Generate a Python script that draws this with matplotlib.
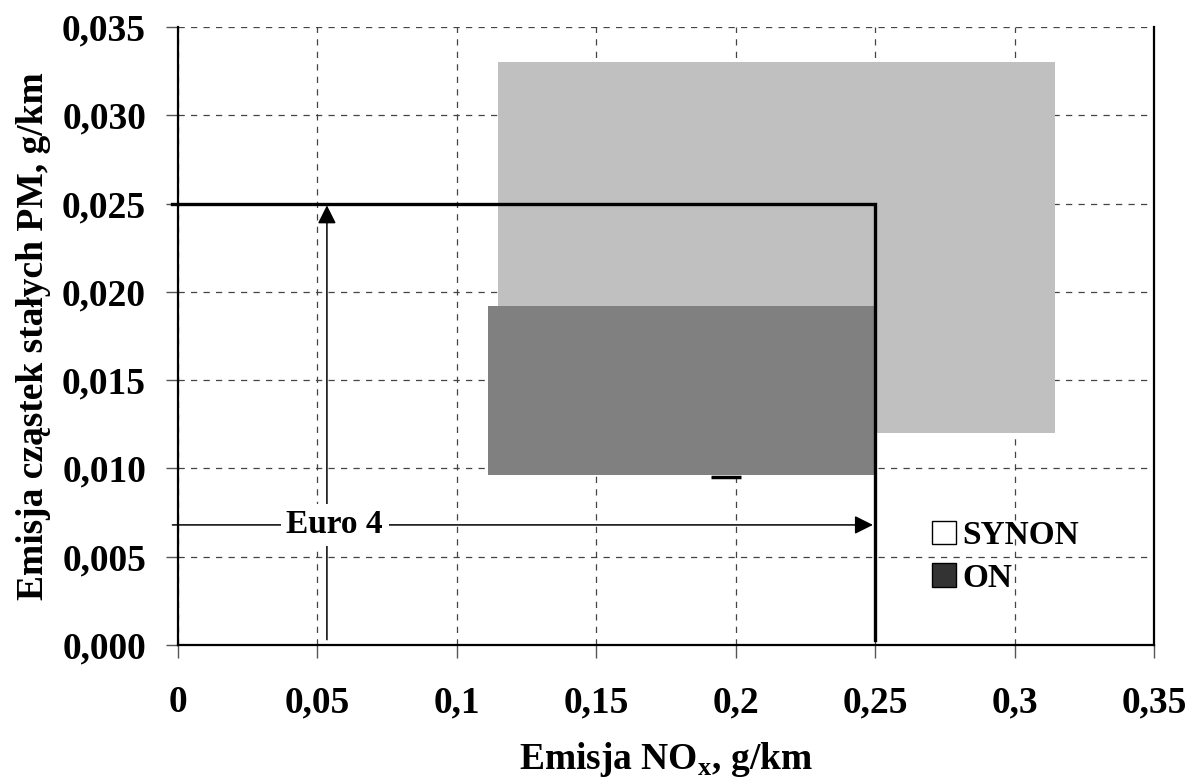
import matplotlib.pyplot as plt
from matplotlib.patches import Patch

# emission areas (g/km): [min, max]
synon_nox = [0.1148, 0.3146]
synon_pm = [0.0120, 0.0330]
on_nox = [0.1110, 0.2500]
on_pm = [0.00964, 0.0192]
on_bar_nox = [0.191, 0.202]
on_bar_pm = 0.0095

# Euro 4 limits
euro4_nox = 0.25
euro4_pm = 0.025
arrow_nox = 0.0534
arrow_pm = 0.0068

xticks = [0, 0.05, 0.1, 0.15, 0.2, 0.25, 0.3, 0.35]
xtick_labels = ["0", "0,05", "0,1", "0,15", "0,2", "0,25", "0,3", "0,35"]
yticks = [0, 0.005, 0.010, 0.015, 0.020, 0.025, 0.030, 0.035]
ytick_labels = ["0,000", "0,005", "0,010", "0,015", "0,020", "0,025", "0,030", "0,035"]

plt.rcParams["font.family"] = ["Liberation Serif", "DejaVu Serif"]
plt.rcParams["font.weight"] = "bold"
plt.rcParams["mathtext.fontset"] = "custom"
plt.rcParams["mathtext.bf"] = "Liberation Serif:bold"

fig = plt.figure(figsize=(11.89, 7.80), dpi=100)
ax = fig.add_axes([0.1497, 0.1731, 0.8209, 0.7923])

ax.bar(synon_nox[0], synon_pm[1] - synon_pm[0], width=synon_nox[1] - synon_nox[0],
       bottom=synon_pm[0], align="edge", color="#c0c0c0", zorder=2)
ax.bar(on_nox[0], on_pm[1] - on_pm[0], width=on_nox[1] - on_nox[0],
       bottom=on_pm[0], align="edge", color="#808080", zorder=3)
ax.plot(on_bar_nox, [on_bar_pm, on_bar_pm], color="black", lw=2.5, zorder=2.5,
        solid_capstyle="butt")

# Euro 4 limit box
ax.plot([-0.002, euro4_nox, euro4_nox], [euro4_pm, euro4_pm, 0.0003],
        color="black", lw=2.4, zorder=4, clip_on=False, solid_joinstyle="miter")

# arrows
ax.annotate("", xy=(arrow_nox, euro4_pm - 0.0001), xytext=(arrow_nox, 0.0003),
            arrowprops=dict(arrowstyle="-|>", color="black", lw=1.1,
                            mutation_scale=28, shrinkA=0, shrinkB=0), zorder=5)
ax.annotate("", xy=(euro4_nox - 0.0008, arrow_pm), xytext=(-0.002, arrow_pm),
            arrowprops=dict(arrowstyle="-|>", color="black", lw=1.1,
                            mutation_scale=28, shrinkA=0, shrinkB=0),
            annotation_clip=False, zorder=5)
ax.text(0.0562, arrow_pm, "Euro 4", fontsize=24, fontweight="bold", ha="center",
        va="center", zorder=6,
        bbox=dict(facecolor="white", edgecolor="none", pad=4))

ax.set_xlim(0, 0.35)
ax.set_ylim(0, 0.035)
ax.set_xticks(xticks)
ax.set_xticklabels(xtick_labels)
ax.set_yticks(yticks)
ax.set_yticklabels(ytick_labels)
ax.tick_params(axis="both", labelsize=27, length=9, width=1, color="#555555", direction="out")
ax.tick_params(axis="x", pad=20)
ax.tick_params(axis="y", pad=14)
for lab in ax.get_xticklabels() + ax.get_yticklabels():
    lab.set_fontweight("bold")

ax.grid(True, color="#444444", linestyle=(0, (5, 5)), linewidth=0.9, zorder=1)
ax.set_axisbelow(True)
ax.spines["top"].set_visible(False)
for s in ["left", "right", "bottom"]:
    ax.spines[s].set_linewidth(1.6)
    ax.spines[s].set_color("black")

ax.set_xlabel("Emisja NO$_\\mathbf{x}$, g/km", fontsize=27, fontweight="bold", labelpad=14)
ax.set_ylabel("Emisja cząstek stałych PM, g/km", fontsize=27, fontweight="bold", labelpad=8)

handles = [Patch(facecolor="white", edgecolor="black", label="SYNON"),
           Patch(facecolor="#333333", edgecolor="black", label="ON")]
ax.legend(handles=handles, loc="upper left", bbox_to_anchor=(0.773, 0.202),
          frameon=False, prop={"weight": "bold", "size": 24},
          handlelength=0.7, handleheight=0.7, handletextpad=0.2,
          borderpad=0, borderaxespad=0, labelspacing=0.35)

fig.savefig("out.png", dpi=100)
